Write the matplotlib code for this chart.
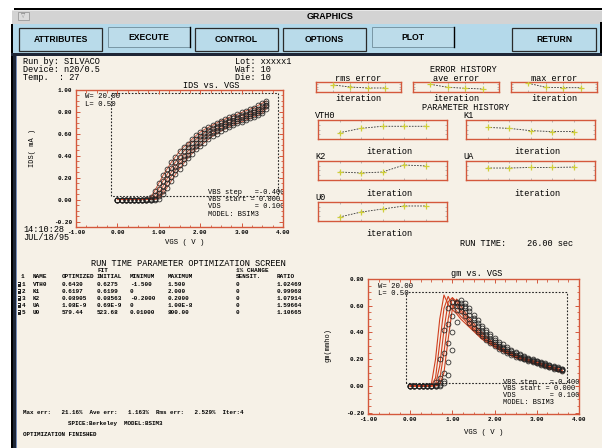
import matplotlib
matplotlib.use("Agg")
import matplotlib.pyplot as plt
from matplotlib.patches import Rectangle

# ---------------- data ----------------
vgs = [round(0.1 * i, 1) for i in range(37)]

ids_1 = [0, 0, 0, 0, 0, 0, 0, 0.003, 0.02, 0.08, 0.15, 0.22, 0.28, 0.34, 0.39, 0.44, 0.48, 0.51, 0.55,
         0.585, 0.615, 0.64, 0.66, 0.68, 0.70, 0.72, 0.735, 0.75, 0.765, 0.78, 0.795, 0.81, 0.825,
         0.84, 0.86, 0.88, 0.90]
ids_2 = [0, 0, 0, 0, 0, 0, 0, 0, 0.005, 0.04, 0.10, 0.17, 0.23, 0.29, 0.34, 0.39, 0.44, 0.48, 0.52,
         0.55, 0.58, 0.61, 0.635, 0.655, 0.675, 0.695, 0.71, 0.725, 0.74, 0.755, 0.77, 0.785, 0.80,
         0.815, 0.83, 0.85, 0.88]
ids_3 = [0, 0, 0, 0, 0, 0, 0, 0, 0, 0.01, 0.06, 0.12, 0.19, 0.25, 0.30, 0.35, 0.40, 0.44, 0.48,
         0.52, 0.55, 0.58, 0.605, 0.63, 0.65, 0.67, 0.69, 0.705, 0.72, 0.735, 0.75, 0.765, 0.78,
         0.795, 0.81, 0.83, 0.86]
ids_4 = [0, 0, 0, 0, 0, 0, 0, 0, 0, 0.002, 0.03, 0.08, 0.15, 0.21, 0.27, 0.32, 0.37, 0.41, 0.45,
         0.49, 0.52, 0.55, 0.58, 0.605, 0.63, 0.65, 0.67, 0.685, 0.70, 0.715, 0.73, 0.745, 0.76,
         0.775, 0.79, 0.81, 0.85]
ids_5 = [0, 0, 0, 0, 0, 0, 0, 0, 0, 0, 0.01, 0.05, 0.11, 0.17, 0.23, 0.28, 0.33, 0.38, 0.42,
         0.46, 0.49, 0.52, 0.55, 0.58, 0.60, 0.625, 0.645, 0.665, 0.68, 0.695, 0.71, 0.725, 0.74,
         0.755, 0.77, 0.79, 0.83]
ids_curves = [ids_1, ids_2, ids_3, ids_4, ids_5]

gm_1 = [0, 0, 0, 0, 0, 0, 0.03, 0.20, 0.42, 0.58, 0.63, 0.60, 0.56, 0.52, 0.47, 0.43, 0.40, 0.37, 0.34,
        0.32, 0.30, 0.28, 0.265, 0.25, 0.235, 0.22, 0.21, 0.20, 0.19, 0.18, 0.17, 0.16, 0.15, 0.14,
        0.13, 0.125, 0.115]
gm_2 = [0, 0, 0, 0, 0, 0, 0.01, 0.06, 0.25, 0.46, 0.60, 0.63, 0.59, 0.55, 0.50, 0.46, 0.42, 0.39, 0.36,
        0.335, 0.31, 0.29, 0.275, 0.26, 0.245, 0.23, 0.215, 0.205, 0.195, 0.185, 0.175, 0.165, 0.155,
        0.145, 0.135, 0.127, 0.118]
gm_3 = [0, 0, 0, 0, 0, 0, 0, 0.02, 0.10, 0.32, 0.52, 0.62, 0.62, 0.58, 0.53, 0.49, 0.45, 0.41, 0.38,
        0.35, 0.325, 0.30, 0.285, 0.265, 0.25, 0.235, 0.22, 0.21, 0.20, 0.19, 0.18, 0.17, 0.16, 0.15,
        0.14, 0.13, 0.12]
gm_4 = [0, 0, 0, 0, 0, 0, 0, 0.01, 0.04, 0.18, 0.40, 0.57, 0.64, 0.60, 0.56, 0.51, 0.47, 0.43, 0.40,
        0.37, 0.34, 0.315, 0.295, 0.275, 0.26, 0.245, 0.23, 0.215, 0.205, 0.195, 0.185, 0.175, 0.165,
        0.155, 0.145, 0.135, 0.125]
gm_5 = [0, 0, 0, 0, 0, 0, 0, 0, 0.02, 0.08, 0.27, 0.48, 0.60, 0.62, 0.58, 0.53, 0.49, 0.45, 0.42,
        0.39, 0.36, 0.33, 0.31, 0.29, 0.27, 0.255, 0.24, 0.225, 0.21, 0.20, 0.19, 0.18, 0.17, 0.16,
        0.15, 0.14, 0.13]
gm_curves = [gm_1, gm_2, gm_3, gm_4, gm_5]

gm_sim_1 = [0, 0, 0, 0, 0, 0.01, 0.20, 0.50, 0.68, 0.61, 0.57, 0.54, 0.50, 0.47, 0.44, 0.41, 0.38, 0.35,
            0.33, 0.31, 0.29, 0.27, 0.255, 0.24, 0.225, 0.21, 0.20, 0.19, 0.18, 0.17, 0.16, 0.15, 0.14,
            0.13, 0.12, 0.11, 0.10]
gm_sim_2 = [0, 0, 0, 0, 0, 0, 0.06, 0.32, 0.58, 0.67, 0.60, 0.56, 0.52, 0.49, 0.45, 0.42, 0.39, 0.36,
            0.34, 0.315, 0.295, 0.275, 0.26, 0.245, 0.23, 0.215, 0.205, 0.195, 0.185, 0.175, 0.165,
            0.155, 0.145, 0.135, 0.125, 0.115, 0.105]
gm_sim_3 = [0, 0, 0, 0, 0, 0, 0.01, 0.15, 0.42, 0.63, 0.66, 0.60, 0.55, 0.51, 0.47, 0.43, 0.40, 0.37,
            0.345, 0.32, 0.30, 0.28, 0.265, 0.25, 0.235, 0.22, 0.21, 0.20, 0.19, 0.18, 0.17, 0.16,
            0.15, 0.14, 0.13, 0.12, 0.11]
gm_sim_4 = [0, 0, 0, 0, 0, 0, 0, 0.05, 0.25, 0.50, 0.66, 0.63, 0.57, 0.53, 0.49, 0.45, 0.41, 0.38,
            0.35, 0.33, 0.31, 0.29, 0.27, 0.255, 0.24, 0.225, 0.215, 0.205, 0.195, 0.185, 0.175,
            0.165, 0.155, 0.145, 0.135, 0.125, 0.115]
gm_sim_5 = [0, 0, 0, 0, 0, 0, 0, 0.01, 0.10, 0.35, 0.58, 0.65, 0.60, 0.55, 0.51, 0.47, 0.43, 0.40,
            0.37, 0.34, 0.32, 0.30, 0.28, 0.265, 0.25, 0.235, 0.22, 0.21, 0.20, 0.19, 0.18, 0.17,
            0.16, 0.15, 0.14, 0.13, 0.12]
gm_sim_curves = [gm_sim_1, gm_sim_2, gm_sim_3, gm_sim_4, gm_sim_5]

err_iter = [1, 2, 3, 4]
rms_hist = [0.70, 0.50, 0.40, 0.40]
ave_hist = [0.77, 0.47, 0.37, 0.30]
max_hist = [0.87, 0.47, 0.43, 0.43]

par_iter = [1, 2, 3, 4, 5]
vth0_hist = [0.33, 0.56, 0.67, 0.67, 0.67]
k1_hist = [0.61, 0.56, 0.44, 0.39, 0.39]
k2_hist = [0.42, 0.37, 0.42, 0.79, 0.74]
ua_hist = [0.63, 0.63, 0.66, 0.66, 0.68]
u0_hist = [0.21, 0.47, 0.63, 0.79, 0.79]

tbl_names = ['VTH0', 'K1', 'K2', 'UA', 'U0']
tbl_optimized = ['0.6430', '0.6197', '0.08905', '1.08E-9', '579.44']
tbl_initial = ['0.6275', '0.6199', '0.08563', '0.69E-9', '523.68']
tbl_minimum = ['-1.500', '0', '-0.2000', '0', '0.01000']
tbl_maximum = ['1.500', '2.000', '0.2000', '1.00E-8', '800.00']
tbl_sensit = ['0', '0', '0', '0', '0']
tbl_ratio = ['1.02469', '0.99968', '1.07914', '1.59664', '1.10665']

buttons = ['ATTRIBUTES', 'EXECUTE', 'CONTROL', 'OPTIONS', 'PLOT', 'RETURN']
main_xticks = [-1.0, 0.0, 1.0, 2.0, 3.0, 4.0]
ids_yticks = [-0.2, 0.0, 0.2, 0.4, 0.6, 0.8, 1.0]
gm_yticks = [-0.2, 0.0, 0.2, 0.4, 0.6, 0.8]

# ---------------- figure ----------------
W, H = 602, 448
fig = plt.figure(figsize=(W / 100, H / 100), dpi=100)
bg = fig.add_axes([0, 0, 1, 1])
bg.set_xlim(0, W)
bg.set_ylim(H, 0)
bg.axis('off')

MONO = 'Liberation Mono'
SANS = 'Liberation Sans'
RED = '#d4583c'
YEL = '#cfcf3a'
CREAM = '#f6f1e7'
BLUE = '#b4d9ea'


def rect(x0, y0, x1, y1, fc, ec='none', lw=0.0, z=1):
    bg.add_patch(Rectangle((x0, y0), x1 - x0, y1 - y0, facecolor=fc,
                           edgecolor=ec, linewidth=lw, zorder=z))


def txt(x, y, s, size=6.2, ha='left', va='center', weight='normal', family=MONO,
        color='black', rot=0):
    bg.text(x, y, s, fontsize=size, ha=ha, va=va, fontweight=weight, family=family,
            color=color, rotation=rot, zorder=5)


def add_ax(x0, y0, x1, y1):
    a = fig.add_axes([x0 / W, 1 - y1 / H, (x1 - x0) / W, (y1 - y0) / H])
    a.set_facecolor('none')
    return a


# window chrome
rect(0, 0, W, H, 'white', z=0)
rect(14, 8, W, 10, 'black')
rect(12, 10, W, 24, '#d3d3d3')
rect(12, 10, W, 11.5, '#e8e8e8')
rect(18, 12, 29, 20, '#dcdcdc', ec='#9a9a9a', lw=0.6, z=2)
txt(23.5, 16, '\u25bd', size=4, ha='center', family='DejaVu Sans', color='#777')
txt(330, 16.5, 'GRAPHICS', size=6.4, ha='center', weight='bold', family=SANS)
rect(12, 24, 600, 53, BLUE)
rect(600, 22, W, 56, 'black')
rect(11, 24, 13, H, 'black')
rect(11, 53, W, 56, '#1e2636')
rect(13, 56, W, H, CREAM)
rect(13, 56, 16, H, '#1e2636')
rect(16, 56, 17.2, H, '#7a8fb8')

btn_boxes = [(19, 102), (108, 190), (195, 278), (283, 366), (372, 454), (512, 596)]
raised = ['EXECUTE', 'PLOT']
for name, (bx0, bx1) in zip(buttons, btn_boxes):
    if name in raised:
        rect(bx0, 27, bx1, 47, '#bcdcea', ec='#6f8c99', lw=0.6, z=2)
        bg.plot([bx1, bx1], [27, 47], color='black', lw=1.0, zorder=3)
        txt((bx0 + bx1) / 2, 37, name, size=6.2, ha='center', weight='bold', family=SANS)
    else:
        rect(bx0, 28, bx1, 51, '#b9dbea', ec='#2a2a2a', lw=0.9, z=2)
        txt((bx0 + bx1) / 2, 40, name, size=6.2, ha='center', weight='bold', family=SANS)

# header text
txt(23, 62, 'Run by: SILVACO')
txt(23, 69.5, 'Device: n20/0.5')
txt(23, 77, 'Temp.  : 27')
txt(235, 62, 'Lot: xxxxx1')
txt(235, 69.5, 'Waf: 10')
txt(235, 77, 'Die: 10')
txt(23, 229, '14:10:28')
txt(23, 237, 'JUL/18/95')


def style_main(ax, ylim, yt):
    ax.set_xlim(-1.0, 4.0)
    ax.set_ylim(*ylim)
    for s in ax.spines.values():
        s.set_color(RED)
        s.set_linewidth(1.0)
    ax.set_xticks(main_xticks)
    ax.set_yticks(yt)
    ax.set_xticklabels([f'{v:.2f}' for v in main_xticks])
    ax.set_yticklabels([f'{v:.2f}' for v in yt])
    ax.set_xticks([v / 4 for v in range(-4, 17)], minor=True)
    ax.set_yticks([round(yt[0] + 0.05 * i, 3) for i in range(int(round((yt[-1] - yt[0]) / 0.05)) + 1)],
                  minor=True)
    ax.tick_params(which='major', direction='in', top=True, right=True, color=RED,
                   length=3, width=0.7, labelsize=4.3, pad=2.5)
    ax.tick_params(which='minor', direction='in', top=True, right=True, color=RED,
                   length=1.8, width=0.6)
    for lab in ax.get_xticklabels() + ax.get_yticklabels():
        lab.set_family(MONO)
        lab.set_fontweight('bold')


# IDS vs VGS
ax1 = add_ax(76, 90, 283, 227)
style_main(ax1, (-0.25, 1.0), ids_yticks)
for c in ids_curves:
    ax1.plot(vgs, c, color='#c8452a', lw=0.6, zorder=2)
    ax1.plot(vgs, c, ls='none', marker='o', ms=3.5, mfc='none', mec='#222', mew=0.55, zorder=3)
ids_box_x = [-0.15, 3.88]
ids_box_y = [0.03, 0.97]
ax1.plot([ids_box_x[0], ids_box_x[0], ids_box_x[1], ids_box_x[1], ids_box_x[0]],
         [ids_box_y[0], ids_box_y[1], ids_box_y[1], ids_box_y[0], ids_box_y[0]],
         color='#222', lw=0.8, ls=(0, (1.5, 1.5)), zorder=1)
txt(183, 85, 'IDS vs. VGS')
txt(185, 242, 'VGS ( V )', size=5.2, ha='center')
txt(33, 148, 'IDS( mA )', size=5.0, ha='center', rot=90)
txt(85, 97, 'W= 20.00', size=5.2)
txt(85, 104, 'L= 0.50', size=5.2)
txt(208, 192, 'VBS step   =-0.400', size=5.0)
txt(208, 199.5, 'VBS start = 0.000', size=5.0)
txt(208, 207, 'VDS        = 0.100', size=5.0)
txt(208, 214.5, 'MODEL: BSIM3', size=5.0)

# gm vs VGS
ax2 = add_ax(368, 279, 579, 414)
style_main(ax2, (-0.21, 0.79), gm_yticks)
for c in gm_sim_curves:
    ax2.plot(vgs, c, color='#d0401f', lw=0.8, zorder=2)
for c in gm_curves:
    ax2.plot(vgs, c, ls='none', marker='o', ms=3.5, mfc='none', mec='#222', mew=0.55, zorder=3)
gm_box_x = [-0.1, 3.72]
gm_box_y = [0.02, 0.70]
ax2.plot([gm_box_x[0], gm_box_x[0], gm_box_x[1], gm_box_x[1], gm_box_x[0]],
         [gm_box_y[0], gm_box_y[1], gm_box_y[1], gm_box_y[0], gm_box_y[0]],
         color='#222', lw=0.8, ls=(0, (1.5, 1.5)), zorder=1)
txt(477, 274, 'gm vs. VGS', ha='center')
txt(484, 433, 'VGS ( V )', size=5.2, ha='center')
txt(328, 345, 'gm(mmho)', size=5.0, ha='center', rot=90)
txt(378, 287, 'W= 20.00', size=5.2)
txt(378, 293.5, 'L= 0.50', size=5.2)
txt(503, 382, 'VBS step   =-0.400', size=5.0)
txt(503, 389, 'VBS start = 0.000', size=5.0)
txt(503, 395.5, 'VDS        = 0.100', size=5.0)
txt(503, 402, 'MODEL: BSIM3', size=5.0)


def mini(x0, y0, x1, y1, xs, ys, xmax):
    a = add_ax(x0, y0, x1, y1)
    a.set_xlim(0, xmax)
    a.set_ylim(0, 1)
    for s in a.spines.values():
        s.set_color(RED)
        s.set_linewidth(1.0)
    a.plot(xs, ys, color='#333', lw=0.6, ls=(0, (2, 1.5)), zorder=2)
    a.plot(xs, ys, ls='none', marker='+', color=YEL, ms=5, mew=0.9, zorder=3)
    a.set_xticks(list(range(0, int(xmax) + 1)))
    a.set_yticks([0.25, 0.5, 0.75])
    a.tick_params(direction='in', top=True, right=True, length=1.6, width=0.5,
                  color='#a0a0a0', labelleft=False, labelbottom=False)
    return a


# error history
txt(463, 70, 'ERROR HISTORY', ha='center')
for label, hist, (bx0, bx1) in [('rms error', rms_hist, (316, 401)),
                                ('ave error', ave_hist, (413, 499)),
                                ('max error', max_hist, (511, 597))]:
    cx = (bx0 + bx1) / 2
    txt(cx, 78.5, label, ha='center')
    mini(bx0, 82, bx1, 92, err_iter, hist, 4.93)
    txt(cx, 98.5, 'iteration', ha='center')

txt(466, 107, 'PARAMETER HISTORY', ha='center')
params = [('VTH0', vth0_hist, 318, 120), ('K1', k1_hist, 466, 120),
          ('K2', k2_hist, 318, 161), ('UA', ua_hist, 466, 161),
          ('U0', u0_hist, 318, 202)]
for label, hist, bx0, by0 in params:
    txt(bx0 - 3, by0 - 4.5, label)
    mini(bx0, by0, bx0 + 129, by0 + 19, par_iter, hist, 6.0)
    txt(bx0 + 71, by0 + 32, 'iteration', ha='center')

txt(460, 243.5, 'RUN TIME:')
txt(527, 243.5, '26.00 sec')

# table
txt(188, 263, 'RUN TIME PARAMETER OPTIMIZATION SCREEN', ha='center')
TS = 4.3
cols = [62, 97, 130, 168, 236, 277]
txt(97, 270, 'FIT', size=TS, weight='bold')
txt(236, 270, '1% CHANGE', size=TS, weight='bold')
txt(21, 277, '1', size=TS, weight='bold')
txt(33, 277, 'NAME', size=TS, weight='bold')
for cx, h in zip(cols, ['OPTIMIZED', 'INITIAL', 'MINIMUM', 'MAXIMUM', 'SENSIT.', 'RATIO']):
    txt(cx, 277, h, size=TS, weight='bold')
for i, name in enumerate(tbl_names):
    ry = 284.5 + 7 * i
    rect(17.5, ry - 2.8, 21, ry + 2.6, '#222', z=3)
    rect(18.3, ry - 1.8, 20.2, ry - 0.2, 'white', z=4)
    txt(21.5, ry, str(i + 1), size=TS, weight='bold')
    txt(33, ry, name, size=TS, weight='bold')
    vals = [tbl_optimized[i], tbl_initial[i], tbl_minimum[i], tbl_maximum[i],
            tbl_sensit[i], tbl_ratio[i]]
    for cx, v in zip(cols, vals):
        txt(cx, ry, v, size=TS, weight='bold')

# footer
FS = 4.2
txt(23, 412, 'Max err:   21.16%  Ave err:   1.163%  Rms err:   2.529%  Iter:4', size=FS, weight='bold')
txt(68, 423, 'SPICE:Berkeley  MODEL:BSIM3', size=FS, weight='bold')
txt(23, 435, 'OPTIMIZATION FINISHED', size=FS, weight='bold')

fig.savefig('out.png', dpi=100)
